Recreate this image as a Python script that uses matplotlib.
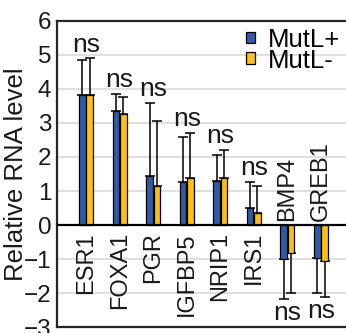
import numpy as np
import matplotlib
matplotlib.use('Agg')
import matplotlib.pyplot as plt

plt.rcParams['font.family'] = ['Liberation Sans', 'DejaVu Sans']

genes = ['ESR1', 'FOXA1', 'PGR', 'IGFBP5', 'NRIP1', 'IRS1', 'BMP4', 'GREB1']
series_names = ['MutL+', 'MutL-']

# mean relative RNA level per gene
mutl_plus = [3.83, 3.35, 1.45, 1.26, 1.29, 0.49, -1.00, -0.96]
mutl_minus = [3.83, 3.27, 1.14, 1.37, 1.37, 0.35, -0.81, -1.05]

# one sided error (drawn away from zero)
mutl_plus_err = [1.01, 0.50, 2.13, 1.34, 0.77, 0.78, 1.18, 1.02]
mutl_minus_err = [1.06, 0.48, 1.91, 1.32, 0.83, 0.81, 1.17, 1.05]

signif = ['ns'] * len(genes)

blue = '#2f5ba8'
yellow = '#fcc012'
ink = '#1a1a1a'


def one_sided(vals, errs):
    vals = np.asarray(vals)
    errs = np.asarray(errs)
    lower = np.where(vals < 0, errs, 0)
    upper = np.where(vals >= 0, errs, 0)
    return np.vstack([lower, upper])


fig = plt.figure(figsize=(3.46, 3.33), dpi=100)
ax = fig.add_axes([0.164, 0.017, 0.866, 0.921])

x = np.arange(len(genes))
width = 0.2
off = 0.11

err_kw = dict(ecolor='black', elinewidth=1.1, capsize=3.5, capthick=1.1, zorder=2)
ax.bar(x - off, mutl_plus, width, color=blue, edgecolor='black', linewidth=0.9,
       yerr=one_sided(mutl_plus, mutl_plus_err), error_kw=err_kw, zorder=3,
       label=series_names[0])
ax.bar(x + off, mutl_minus, width, color=yellow, edgecolor='black', linewidth=0.9,
       yerr=one_sided(mutl_minus, mutl_minus_err), error_kw=err_kw, zorder=3,
       label=series_names[1])

ax.axhline(0, color='black', lw=1.6, zorder=4)

# gene names sit on the opposite side of zero from the bars,
# "ns" goes just past the end of the error bars
for i, g in enumerate(genes):
    p = mutl_plus[i]
    m = mutl_minus[i]
    if p >= 0:
        ax.annotate(g, (x[i], 0), xytext=(0, -5), textcoords='offset points',
                    rotation=90, ha='center', va='top', fontsize=17, color=ink)
        tip = max(p + mutl_plus_err[i], m + mutl_minus_err[i])
        ax.annotate(signif[i], (x[i], tip), xytext=(0, 5), textcoords='offset points',
                    ha='center', va='baseline', fontsize=19, color=ink)
    else:
        ax.annotate(g, (x[i], 0), xytext=(0, 3), textcoords='offset points',
                    rotation=90, ha='center', va='bottom', fontsize=17, color=ink)
        tip = min(p - mutl_plus_err[i], m - mutl_minus_err[i])
        ax.annotate(signif[i], (x[i], tip), xytext=(0, -1.5), textcoords='offset points',
                    ha='center', va='top', fontsize=19, color=ink)

ax.set_xlim(-0.877, 8.06)
ax.set_ylim(-3, 6)
ax.set_yticks(range(-3, 7))
ax.set_xticks([])
ax.tick_params(axis='y', length=0, pad=4, labelsize=17.5, labelcolor=ink)
ax.yaxis.grid(True, color='#d9d9d9', lw=1.2, zorder=0)
ax.set_axisbelow(True)

for side in ['left', 'top', 'bottom']:
    ax.spines[side].set_linewidth(1.6)
    ax.spines[side].set_color('#262626')
ax.spines['right'].set_visible(False)

ax.set_ylabel('Relative RNA level', fontsize=18.5, color=ink)
ax.yaxis.set_label_coords(-0.096, 0.5)

ax.legend(loc='upper left', bbox_to_anchor=(0.712, 0.917), bbox_transform=fig.transFigure,
          frameon=False, fontsize=18.5, handlelength=0.32, handleheight=0.32,
          handletextpad=0.5, labelspacing=-0.12, borderpad=0, borderaxespad=0)

fig.savefig('out.png', dpi=100)
